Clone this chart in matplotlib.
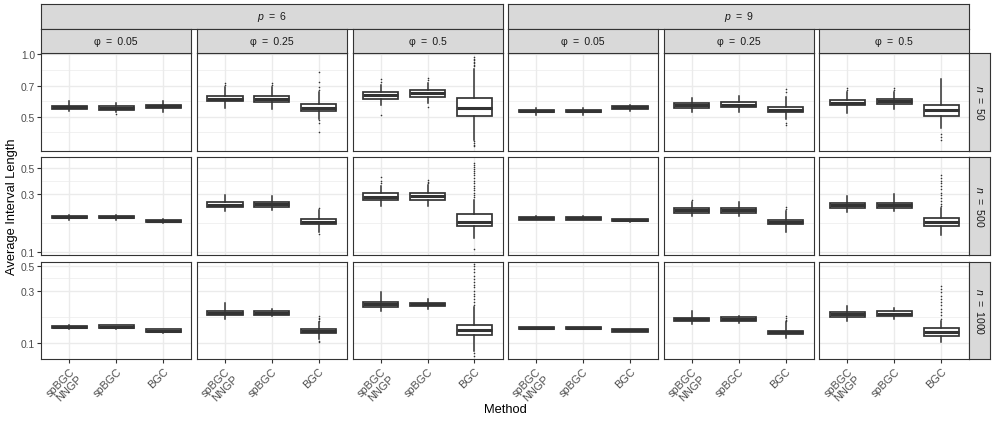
import matplotlib
matplotlib.use('Agg')
import matplotlib.pyplot as plt
from matplotlib.ticker import FixedLocator, NullLocator
import numpy as np

plt.rcParams['font.family'] = ['Liberation Sans', 'DejaVu Sans']
plt.rcParams['mathtext.fontset'] = 'custom'
plt.rcParams['mathtext.it'] = 'Liberation Sans:italic'
plt.rcParams['mathtext.rm'] = 'Liberation Sans'

# ---------------- data ----------------
methods = ['spBGC\nNNGP', 'spBGC', 'BGC']
p_values = ['6', '9']
phi_values = ['0.05', '0.25', '0.5']
n_values = ['50', '500', '1000']

# each box: (whislo, q1, median, q3, whishi); panels ordered p=6 (phi .05,.25,.5), p=9 (phi .05,.25,.5)
box_n50 = [
    [(.530, .544, .554, .564, .592), (.529, .541, .552, .562, .583), (.528, .550, .560, .571, .592)],
    [(.550, .592, .610, .628, .696), (.542, .590, .609, .628, .696), (.489, .532, .552, .573, .655)],
    [(.571, .610, .632, .656, .711), (.583, .621, .649, .673, .727), (.388, .504, .552, .614, .850)],
    [(.511, .524, .532, .540, .550), (.511, .524, .532, .541, .549), (.534, .546, .554, .562, .571)],
    [(.527, .550, .566, .581, .614), (.527, .554, .571, .588, .625), (.489, .527, .540, .556, .621)],
    [(.521, .566, .583, .603, .658), (.546, .573, .592, .610, .658), (.443, .504, .536, .571, .760)],
]
fliers_n50 = [
    [[], [.516], []],
    [[.711, .723], [.711, .723], [.823, .735, .695, .672, .480, .465, .423]],
    [[.760, .735, .511], [.764, .747, .558],
     [.964, .950, .935, .920, .905, .890, .875, .380, .372, .366, .361]],
    [[], [], []],
    [[], [], [.680, .660, .465, .458]],
    [[.688, .673], [.685, .670], [.415, .399, .385]],
]

box_n500 = [
    [(.185, .191, .195, .199, .203), (.185, .191, .195, .199, .204), (.174, .178, .182, .186, .189)],
    [(.220, .235, .247, .259, .294), (.221, .236, .248, .259, .292), (.147, .170, .179, .187, .225)],
    [(.242, .270, .287, .307, .352), (.241, .270, .291, .310, .357), (.130, .163, .178, .206, .270)],
    [(.183, .186, .190, .194, .197), (.183, .186, .190, .194, .197), (.178, .180, .184, .187, .188)],
    [(.198, .210, .221, .230, .260), (.200, .211, .222, .231, .258), (.146, .170, .177, .184, .220)],
    [(.216, .230, .243, .254, .291), (.217, .231, .243, .254, .300), (.139, .163, .177, .190, .230)],
]
fliers_n500 = [
    [[], [], []],
    [[], [], [.233, .142]],
    [[.415, .390, .375], [.395, .380, .370],
     [.550, .530, .510, .490, .470, .450, .430, .410, .390, .370, .355, .340, .325, .310, .295, .285, .107]],
    [[], [], []],
    [[.270], [], [.235, .228]],
    [[], [], [.434, .410, .390, .370, .350, .330, .310, .295, .280, .265, .250, .240]],
]

box_n1000 = [
    [(.133, .136, .140, .144, .146), (.135, .137, .141, .145, .147), (.122, .126, .129, .133, .135)],
    [(.164, .178, .186, .195, .230), (.175, .180, .187, .194, .202), (.108, .122, .128, .133, .155)],
    [(.197, .212, .224, .238, .290), (.203, .215, .224, .233, .252), (.085, .118, .131, .146, .212)],
    [(.133, .134, .137, .140, .141), (.133, .134, .137, .140, .141), (.126, .127, .130, .133, .134)],
    [(.150, .157, .164, .170, .194), (.153, .159, .165, .171, .177), (.110, .120, .125, .129, .154)],
    [(.158, .174, .183, .193, .217), (.165, .176, .185, .195, .210), (.103, .115, .1255, .136, .158)],
]
fliers_n1000 = [
    [[], [], []],
    [[], [], [.176, .170, .165, .160, .104, .101]],
    [[], [], [.528, .500, .470, .440, .410, .380, .360, .340, .320, .300, .280, .265, .250, .235, .222, .081, .0755]],
    [[], [], []],
    [[], [], [.175, .168, .162, .158]],
    [[], [], [.331, .310, .290, .270, .250, .235, .220, .205, .190, .178, .165]],
]

y_breaks = [[0.5, 0.7, 1.0], [0.1, 0.3, 0.5], [0.1, 0.3, 0.5]]
y_labels = [['0.5', '0.7', '1.0'], ['0.1', '0.3', '0.5'], ['0.1', '0.3', '0.5']]

boxes = [box_n50, box_n500, box_n1000]
fliers = [fliers_n50, fliers_n500, fliers_n1000]

# ---------------- layout ----------------
W, H = 996, 427
fig = plt.figure(figsize=(W / 100, H / 100), dpi=100)

col_x = [41.3 + i * 155.6 for i in range(6)]
row_y = [54.0 + j * 104.3 for j in range(3)]
PW, PH = 150.0, 97.5
ylims = [(0.344, 1.011), (0.095, 0.608), (0.0712, 0.551)]

EDGE = '#333333'
GRID = '#EBEBEB'
TXT = '#4D4D4D'
STRIP_FILL = '#D9D9D9'
SP = '\u2002'


def px_axes(x0, y0, w, h):
    return fig.add_axes([x0 / W, 1 - (y0 + h) / H, w / W, h / H])


def minor_breaks(breaks, lo, hi):
    lb = np.log(breaks)
    mids = list((lb[:-1] + lb[1:]) / 2)
    d0 = (lb[1] - lb[0]) / 2
    d1 = (lb[-1] - lb[-2]) / 2
    mids = [lb[0] - d0] + mids + [lb[-1] + d1]
    return [np.exp(m) for m in mids if np.log(lo) <= m <= np.log(hi)]


for r in range(3):
    for c in range(6):
        ax = px_axes(col_x[c], row_y[r], PW, PH)
        ax.set_yscale('log')
        ax.set_axisbelow(True)

        stats = []
        for (wlo, q1, med, q3, whi), fl in zip(boxes[r][c], fliers[r][c]):
            stats.append(dict(whislo=wlo, q1=q1, med=med, q3=q3, whishi=whi, fliers=fl))
        ax.bxp(stats, positions=[1, 2, 3], widths=0.75, patch_artist=True,
               showfliers=True, showcaps=False, manage_ticks=False,
               boxprops=dict(facecolor='white', edgecolor=EDGE, linewidth=1.25),
               medianprops=dict(color=EDGE, linewidth=2.2, solid_capstyle='butt'),
               whiskerprops=dict(color=EDGE, linewidth=1.1),
               flierprops=dict(marker='o', markersize=1.15, markerfacecolor=EDGE,
                               markeredgecolor='none', linestyle='none'))

        ax.set_xlim(0.4, 3.6)
        ax.set_ylim(*ylims[r])
        ax.yaxis.set_major_locator(FixedLocator(y_breaks[r]))
        ax.yaxis.set_minor_locator(FixedLocator(minor_breaks(y_breaks[r], *ylims[r])))
        ax.xaxis.set_major_locator(FixedLocator([1, 2, 3]))
        ax.xaxis.set_minor_locator(NullLocator())
        ax.grid(which='major', color=GRID, linewidth=1.0)
        ax.grid(which='minor', axis='y', color=GRID, linewidth=0.5)
        for s in ax.spines.values():
            s.set_color(EDGE)
            s.set_linewidth(0.8)

        ax.tick_params(axis='both', which='major', color=EDGE, length=3, width=0.8,
                       labelsize=7.4, labelcolor=TXT, pad=1.5)
        ax.tick_params(axis='y', which='minor', length=0, labelleft=False)
        if c == 0:
            ax.set_yticklabels(y_labels[r])
        else:
            ax.tick_params(axis='y', which='both', length=0, labelleft=False)
        if r == 2:
            ax.set_xticklabels(methods, rotation=45, ha='right', va='top',
                               rotation_mode='anchor', linespacing=1.15,
                               fontsize=7.9)
        else:
            ax.tick_params(axis='x', length=0, labelbottom=False)


def strip(x0, y0, w, h, text, rotation=0):
    sa = px_axes(x0, y0, w, h)
    sa.set_facecolor(STRIP_FILL)
    sa.set_xticks([])
    sa.set_yticks([])
    for s in sa.spines.values():
        s.set_color(EDGE)
        s.set_linewidth(0.8)
    sa.text(0.5, 0.5, text, transform=sa.transAxes, ha='center', va='center',
            fontsize=7.6, color='#1A1A1A', rotation=rotation)


# top strips: p and phi
for g, pv in enumerate(p_values):
    x0 = col_x[3 * g]
    x1 = col_x[3 * g + 2] + PW
    strip(x0, 5.0, x1 - x0, 24.5, r'$p$' + SP + '=' + SP + pv)
    for k, ph in enumerate(phi_values):
        strip(col_x[3 * g + k], 30.3, PW, 23.7, '\u03c6' + SP + '=' + SP + ph)

# right strips: n
for r, nv in enumerate(n_values):
    strip(col_x[5] + PW, row_y[r], 21.0, PH, r'$n$' + SP + '=' + SP + nv, rotation=270)

fig.text(12 / W, 1 - 206.5 / H, 'Average Interval Length', rotation=90,
         ha='center', va='center', fontsize=9.3, color='black')
fig.text(505 / W, 1 - 410 / H, 'Method', ha='center', va='center',
         fontsize=9.3, color='black')

fig.savefig('out.png', dpi=100, facecolor='white')
